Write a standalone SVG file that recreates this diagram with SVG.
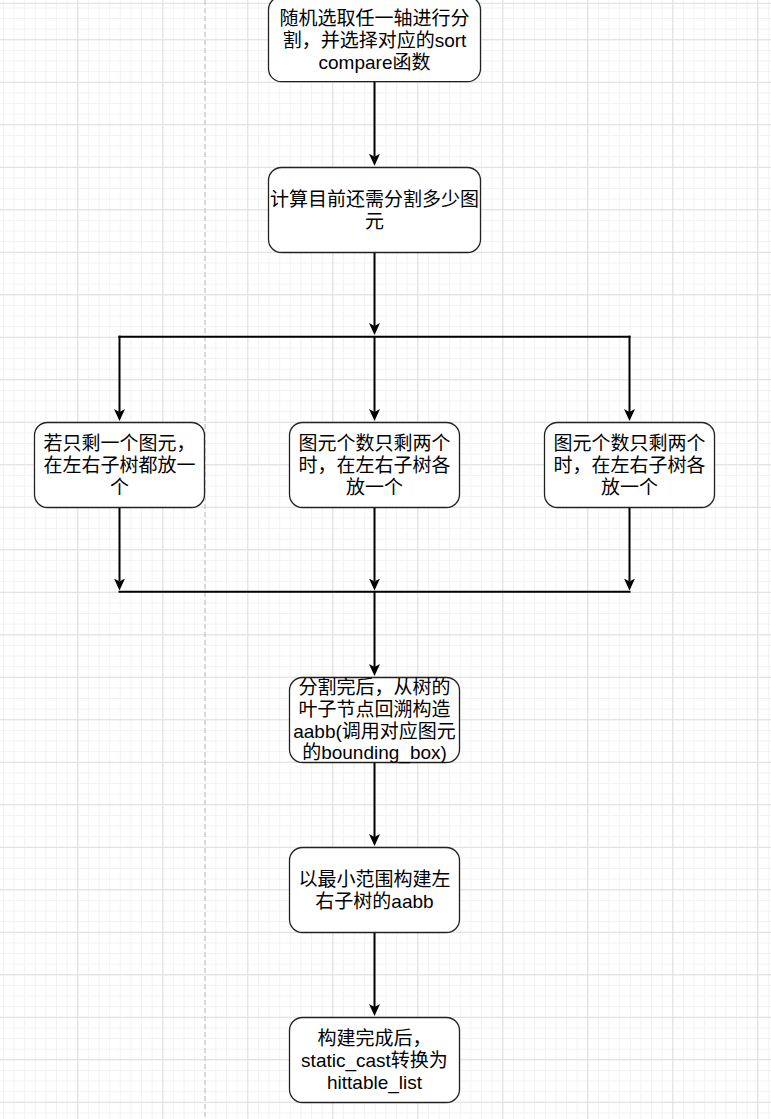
<svg xmlns="http://www.w3.org/2000/svg" width="771" height="1119" viewBox="0 0 771 1119">
<defs>
<style>
.box{fill:#ffffff;stroke:#222222;stroke-width:1.3}
.lbl{font-family:"Liberation Sans","Noto Sans CJK SC",sans-serif;font-size:19px;fill:#000000;text-anchor:middle}
.edge{fill:none;stroke:#000000;stroke-width:2}
</style>
<pattern id="minor" patternUnits="userSpaceOnUse" x="2.925" y="7.425" width="10.625" height="10.625">
<rect x="0" y="0" width="1" height="10.625" fill="#f2f2f2"/>
<rect x="0" y="0" width="10.625" height="1" fill="#f2f2f2"/>
</pattern>
<pattern id="major" patternUnits="userSpaceOnUse" x="77.3" y="39.3" width="85" height="42.5">
<rect x="0" y="0" width="1" height="42.5" fill="#dedede"/>
<rect x="0" y="0" width="85" height="1" fill="#dedede"/>
</pattern>
<marker id="arrow" viewBox="0 0 12 12" refX="3" refY="6" markerWidth="12" markerHeight="12" markerUnits="userSpaceOnUse" orient="auto">
<path d="M0,0.5 L12,6 L0,11.5 L3,6 Z" fill="#000000"/>
</marker>
</defs>
<g id="background">
<rect x="0" y="0" width="771" height="1119" fill="#ffffff"/>
<rect x="0" y="0" width="771" height="1119" fill="url(#minor)"/>
<rect x="0" y="0" width="771" height="1119" fill="url(#major)"/>
<rect x="0" y="2.8" width="771" height="1" fill="#dedede"/>
<line x1="205" y1="0" x2="205" y2="1119" stroke="#c8c8c8" stroke-width="1.3" stroke-dasharray="5 3"/>
</g>
<g id="connectors">
<path class="edge" d="M374.5,81.7 V156.7" marker-end="url(#arrow)"/>
<path class="edge" d="M374.5,252.5 V326" marker-end="url(#arrow)"/>
<path class="edge" d="M118.5,336.7 H630.5"/>
<path class="edge" d="M119.5,335.7 V412" marker-end="url(#arrow)"/>
<path class="edge" d="M374.5,336.7 V412" marker-end="url(#arrow)"/>
<path class="edge" d="M629.5,335.7 V412" marker-end="url(#arrow)"/>
<path class="edge" d="M119.5,507.5 V581.5" marker-end="url(#arrow)"/>
<path class="edge" d="M374.5,507.5 V581.5" marker-end="url(#arrow)"/>
<path class="edge" d="M629.5,507.5 V581.5" marker-end="url(#arrow)"/>
<path class="edge" d="M118.5,591.7 H630.5"/>
<path class="edge" d="M374.5,591.7 V667" marker-end="url(#arrow)"/>
<path class="edge" d="M374.5,762 V837" marker-end="url(#arrow)"/>
<path class="edge" d="M374.5,932.5 V1007" marker-end="url(#arrow)"/>
</g>
<g id="node-split-axis">
<rect class="box" x="268.5" y="-3.3" width="212" height="85" rx="13" ry="13"/>
<text class="lbl" x="374.5" y="25.3">随机选取任一轴进行分</text>
<text class="lbl" x="374.5" y="47">割，并选择对应的sort</text>
<text class="lbl" x="374.5" y="68.7">compare函数</text>
</g>
<g id="node-count">
<rect class="box" x="268.5" y="167.5" width="212" height="85" rx="13" ry="13"/>
<text class="lbl" x="374.5" y="206.2">计算目前还需分割多少图</text>
<text class="lbl" x="374.5" y="227.9">元</text>
</g>
<g id="node-one">
<rect class="box" x="34.5" y="422.5" width="170" height="85" rx="13" ry="13"/>
<text class="lbl" x="119.5" y="450.3">若只剩一个图元，</text>
<text class="lbl" x="119.5" y="472">在左右子树都放一</text>
<text class="lbl" x="119.5" y="493.7">个</text>
</g>
<g id="node-two-a">
<rect class="box" x="289.5" y="422.5" width="170" height="85" rx="13" ry="13"/>
<text class="lbl" x="374.5" y="450.3">图元个数只剩两个</text>
<text class="lbl" x="374.5" y="472">时，在左右子树各</text>
<text class="lbl" x="374.5" y="493.7">放一个</text>
</g>
<g id="node-two-b">
<rect class="box" x="544.5" y="422.5" width="170" height="85" rx="13" ry="13"/>
<text class="lbl" x="629.5" y="450.3">图元个数只剩两个</text>
<text class="lbl" x="629.5" y="472">时，在左右子树各</text>
<text class="lbl" x="629.5" y="493.7">放一个</text>
</g>
<g id="node-backtrack">
<rect class="box" x="289.5" y="677.5" width="170" height="85" rx="13" ry="13"/>
<text class="lbl" x="374.5" y="694.2">分割完后，从树的</text>
<text class="lbl" x="374.5" y="715.9">叶子节点回溯构造</text>
<text class="lbl" x="374.5" y="737.6">aabb(调用对应图元</text>
<text class="lbl" x="374.5" y="759.3">的bounding_box)</text>
</g>
<g id="node-min-range">
<rect class="box" x="289.5" y="847.5" width="170" height="85" rx="13" ry="13"/>
<text class="lbl" x="374.5" y="886.2">以最小范围构建左</text>
<text class="lbl" x="374.5" y="907.9">右子树的aabb</text>
</g>
<g id="node-done">
<rect class="box" x="289.5" y="1017.5" width="170" height="85" rx="13" ry="13"/>
<text class="lbl" x="374.5" y="1045.3">构建完成后，</text>
<text class="lbl" x="374.5" y="1067">static_cast转换为</text>
<text class="lbl" x="374.5" y="1088.7">hittable_list</text>
</g>
</svg>
